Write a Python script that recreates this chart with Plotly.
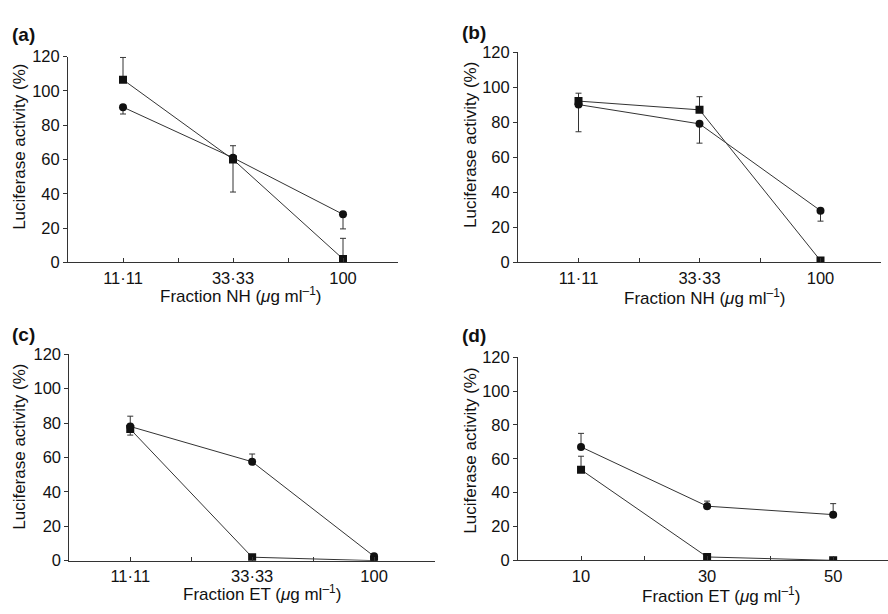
import plotly.graph_objects as go

# ---------------- data ----------------
nh_labels = ["11·11", "33·33", "100"]
nh_x = [1, 2, 3]
et_x = [10, 30, 50]

# panel (a) Fraction NH
a_circle = [90.5, 61, 28]
a_circle_plus = [0, 7, 0]
a_circle_minus = [4, 0, 8.5]
a_square = [106.5, 60, 2]
a_square_plus = [13, 0, 12]
a_square_minus = [0, 19, 0]

# panel (b) Fraction NH
b_circle = [90, 79, 29.5]
b_circle_plus = [0, 0, 0]
b_circle_minus = [15.5, 11, 6]
b_square = [92, 87, 1]
b_square_plus = [4.5, 7.5, 0]
b_square_minus = [0, 0, 0]

# panel (c) Fraction ET
c_circle = [78, 57.5, 2.5]
c_circle_plus = [6, 4.5, 0]
c_circle_minus = [0, 0, 0]
c_square = [76.5, 2, 0]
c_square_plus = [0, 0, 0]
c_square_minus = [3.5, 0, 0]

# panel (d) Fraction ET
d_circle = [67, 32, 27]
d_circle_plus = [8, 3, 6.5]
d_circle_minus = [0, 0, 0]
d_square = [53.5, 2, 0]
d_square_plus = [8, 0, 0]
d_square_minus = [0, 0, 0]

y_ticks = [0, 20, 40, 60, 80, 100, 120]

# ---------------- layout helpers ----------------
W, H = 888, 614
FONT = "Liberation Sans, Arial, Helvetica, sans-serif"
INK = "#111111"
LINE = "#333333"


def xd(p0, p1):
    return [p0 / W, min(p1 / W, 1.0)]


def yd(top, bottom):
    return [1 - bottom / H, 1 - top / H]


fig = go.Figure()


def add_series(x, y, plus, minus, symbol, ax):
    fig.add_trace(go.Scatter(
        x=x, y=y, mode="lines+markers",
        xaxis="x" + ax, yaxis="y" + ax,
        line=dict(color=LINE, width=1),
        marker=dict(symbol=symbol, size=8, color=INK),
        error_y=dict(type="data", symmetric=False, array=plus, arrayminus=minus,
                     color=LINE, thickness=1, width=3),
        showlegend=False, hoverinfo="x+y",
    ))


add_series(nh_x, a_circle, a_circle_plus, a_circle_minus, "circle", "")
add_series(nh_x, a_square, a_square_plus, a_square_minus, "square", "")
add_series(nh_x, b_circle, b_circle_plus, b_circle_minus, "circle", "2")
add_series(nh_x, b_square, b_square_plus, b_square_minus, "square", "2")
add_series(nh_x, c_circle, c_circle_plus, c_circle_minus, "circle", "3")
add_series(nh_x, c_square, c_square_plus, c_square_minus, "square", "3")
add_series(et_x, d_circle, d_circle_plus, d_circle_minus, "circle", "4")
add_series(et_x, d_square, d_square_plus, d_square_minus, "square", "4")

tickfont = dict(family=FONT, size=16.5, color=INK)


def xaxis(domain, anchor, tickvals, ticktext, rng):
    return dict(domain=domain, anchor=anchor, range=rng,
                tickmode="array", tickvals=tickvals, ticktext=ticktext,
                ticks="inside", ticklen=4, tickcolor=LINE, tickwidth=1,
                showline=True, linecolor=LINE, linewidth=1,
                showgrid=False, zeroline=False, tickfont=tickfont,
                ticklabelstandoff=1)


def yaxis(domain, anchor):
    return dict(domain=domain, anchor=anchor, range=[0, 120],
                tickmode="array", tickvals=y_ticks,
                ticks="outside", ticklen=4, tickcolor=LINE, tickwidth=1,
                showline=True, linecolor=LINE, linewidth=1,
                showgrid=False, zeroline=False, tickfont=tickfont)


nh_tickvals = [1, 1.5, 2, 2.5, 3, 3.5]
nh_ticktext = [nh_labels[0], "", nh_labels[1], "", nh_labels[2], ""]
et_tickvals = [10, 20, 30, 40, 50]
et_ticktext = ["10", "", "30", "", "50"]

fig.update_layout(
    width=W, height=H, autosize=False,
    margin=dict(l=0, r=0, t=0, b=0),
    paper_bgcolor="white", plot_bgcolor="white",
    font=dict(family=FONT, color=INK),
    xaxis=xaxis(xd(68, 398), "y", nh_tickvals, nh_ticktext, [0.5, 3.5]),
    yaxis=yaxis(yd(49, 261), "x"),
    xaxis2=xaxis(xd(518, 881), "y2", nh_tickvals, nh_ticktext, [0.5, 3.5]),
    yaxis2=yaxis(yd(44.3, 261), "x2"),
    xaxis3=xaxis(xd(69.3, 435), "y3", nh_tickvals, nh_ticktext, [0.5, 3.5]),
    yaxis3=yaxis(yd(355.7, 568.3), "x3"),
    xaxis4=xaxis(xd(518, 888), "y4", et_tickvals, et_ticktext, [0, 58.7]),
    yaxis4=yaxis(yd(358.7, 568), "x4"),
)

ann = []


def text(x, y, s, size=17, bold=False, angle=0):
    ann.append(dict(xref="paper", yref="paper", x=x / W, y=1 - y / H,
                    text=("<b>%s</b>" % s) if bold else s, showarrow=False,
                    textangle=angle, xanchor="center", yanchor="middle",
                    font=dict(family=FONT, size=size, color=INK)))


# panel labels
text(23, 26, "(a)", size=19, bold=True)
text(474, 24, "(b)", size=19, bold=True)
text(23, 335, "(c)", size=19, bold=True)
text(474, 336, "(d)", size=19, bold=True)

ytitle = "Luciferase activity (%)"
text(20, 142, ytitle, angle=-90)
text(471, 140, ytitle, angle=-90)
text(20, 451, ytitle, angle=-90)
text(471, 455, ytitle, angle=-90)

nh_title = "Fraction NH (<i>μ</i>g ml<sup>–1</sup>)"
et_title = "Fraction ET (<i>μ</i>g ml<sup>–1</sup>)"
text(240, 295, nh_title)
text(704, 297, nh_title)
text(262, 602, et_title)
text(721, 604, et_title)

fig.update_layout(annotations=ann)

fig.write_html(
    "out.html",
    config={"displayModeBar": False},
    post_script="document.body.style.margin='0';document.body.style.overflow='hidden';",
)
